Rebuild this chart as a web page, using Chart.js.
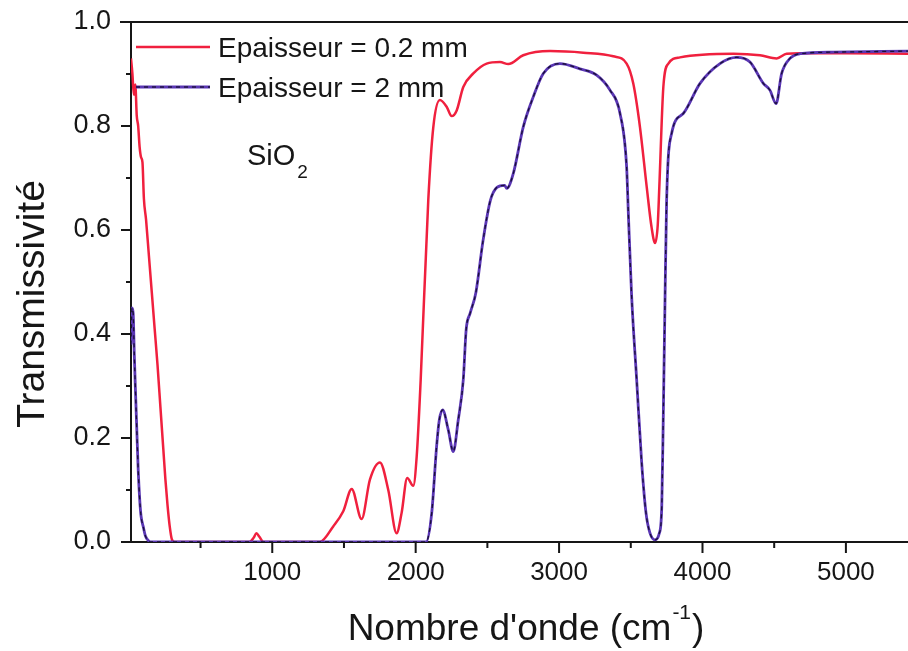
<!DOCTYPE html>
<html>
<head>
<meta charset="utf-8">
<script src="https://cdn.jsdelivr.net/npm/chart.js@4.4.0/dist/chart.umd.min.js"></script>
<style>
  html, body { margin: 0; padding: 0; background: #fff; }
  #wrap { width: 908px; height: 651px; }
</style>
</head>
<body>
<div id="wrap"><canvas id="spectre"></canvas></div>
<script>
// Epaisseur = 0.2 mm (nombre d'onde en cm-1, transmissivité)
const fineX = [15, 25, 35, 45, 55, 65, 75, 85, 95, 105, 120, 140, 160, 180, 200, 220, 240, 255, 270, 285, 300, 320,
  840, 870, 890, 910, 940,
  1330, 1425, 1495, 1554, 1623, 1681, 1751, 1809, 1867, 1902, 1941, 1983, 2007, 2035,
  2088, 2123, 2169, 2216, 2251, 2286, 2332, 2402, 2495, 2588, 2646, 2750, 2937, 3169, 3378, 3471, 3517,
  3564, 3611, 3645, 3669, 3688, 3699, 3727, 3762, 3843, 4215, 4401, 4517, 4587, 4681, 5000, 5433];
const fineY = [0.93, 0.90, 0.86, 0.88, 0.82, 0.80, 0.76, 0.74, 0.73, 0.66, 0.62, 0.55, 0.48, 0.41, 0.34, 0.26, 0.18, 0.12, 0.07, 0.03, 0.005, 0,
  0, 0.008, 0.017, 0.01, 0,
  0, 0.03, 0.059, 0.102, 0.044, 0.120, 0.153, 0.100, 0.017, 0.056, 0.123, 0.108, 0.164, 0.312,
  0.658, 0.798, 0.850, 0.837, 0.819, 0.830, 0.875, 0.901, 0.920, 0.923, 0.919, 0.936, 0.944, 0.941, 0.934, 0.920, 0.882,
  0.798, 0.683, 0.605, 0.575, 0.610, 0.683, 0.875, 0.920, 0.932, 0.939, 0.936, 0.930, 0.939, 0.940, 0.940, 0.939];

// Epaisseur = 2 mm
const epaisX = [15, 22, 30, 38, 45, 55, 65, 75, 85, 100, 115, 135, 150,
  2072, 2112, 2146, 2165, 2188, 2227, 2262, 2297, 2332, 2352, 2380, 2420, 2470, 2521, 2567, 2620, 2635, 2681,
  2750, 2820, 2890, 3006, 3145, 3262, 3355, 3425, 3471, 3483, 3506, 3541, 3576, 3606, 3634, 3669, 3699,
  3716, 3727, 3739, 3750, 3785, 3866, 3983, 4122, 4238, 4331, 4424, 4470, 4513, 4552, 4610, 4681, 4912, 5433];
const epaisY = [0.38, 0.45, 0.44, 0.36, 0.30, 0.22, 0.14, 0.085, 0.05, 0.03, 0.012, 0.003, 0,
  0, 0.056, 0.184, 0.235, 0.254, 0.216, 0.174, 0.235, 0.312, 0.408, 0.440, 0.480, 0.580, 0.657, 0.682, 0.686, 0.680, 0.709,
  0.798, 0.856, 0.901, 0.920, 0.910, 0.898, 0.869, 0.824, 0.721, 0.632, 0.472, 0.312, 0.152, 0.056, 0.017, 0.004, 0.017,
  0.068, 0.248, 0.472, 0.658, 0.786, 0.824, 0.882, 0.920, 0.932, 0.923, 0.882, 0.869, 0.843, 0.901, 0.930, 0.939, 0.942, 0.944];

const xMajor = [1000, 2000, 3000, 4000, 5000];
const xMinor = [500, 1500, 2500, 3500, 4500];
const yMajor = [0, 0.2, 0.4, 0.6, 0.8, 1.0];
const yMinor = [0.1, 0.3, 0.5, 0.7, 0.9];

const FONT = "'Liberation Sans', Arial, Helvetica, sans-serif";
const INK = '#161616';

const toPoints = (xs, ys) => xs.map((x, i) => ({ x: x, y: ys[i] }));

// ticks, top frame line, legend, axis titles and the SiO2 label
const decorations = {
  id: 'decorations',
  afterDraw(chart) {
    const ctx = chart.ctx;
    const area = chart.chartArea;
    const xs = chart.scales.x, ys = chart.scales.y;
    ctx.save();
    ctx.strokeStyle = INK;
    ctx.lineWidth = 2;
    ctx.beginPath();
    ctx.moveTo(area.left - 11, area.top);
    ctx.lineTo(area.right, area.top);
    yMajor.forEach(v => { const p = ys.getPixelForValue(v); ctx.moveTo(area.left - 10, p); ctx.lineTo(area.left, p); });
    yMinor.forEach(v => { const p = ys.getPixelForValue(v); ctx.moveTo(area.left - 5, p); ctx.lineTo(area.left, p); });
    xMajor.forEach(v => { const p = xs.getPixelForValue(v); ctx.moveTo(p, area.bottom); ctx.lineTo(p, area.bottom + 11); });
    xMinor.forEach(v => { const p = xs.getPixelForValue(v); ctx.moveTo(p, area.bottom); ctx.lineTo(p, area.bottom + 6); });
    ctx.stroke();

    // legend inside the plot
    const ds = chart.data.datasets;
    ctx.lineWidth = ds[0].borderWidth;
    ctx.strokeStyle = ds[0].borderColor;
    ctx.beginPath(); ctx.moveTo(136, 47); ctx.lineTo(210, 47); ctx.stroke();
    ctx.lineWidth = ds[1].borderWidth;
    ctx.strokeStyle = ds[1].borderColor;
    ctx.beginPath(); ctx.moveTo(136, 87); ctx.lineTo(210, 87); ctx.stroke();
    ctx.lineWidth = ds[2].borderWidth;
    ctx.strokeStyle = ds[2].borderColor;
    ctx.setLineDash(ds[2].borderDash);
    ctx.beginPath(); ctx.moveTo(136, 87); ctx.lineTo(210, 87); ctx.stroke();
    ctx.setLineDash([]);

    ctx.fillStyle = INK;
    ctx.textAlign = 'left';
    ctx.textBaseline = 'alphabetic';
    ctx.font = '28px ' + FONT;
    ctx.fillText(ds[0].label, 218, 57);
    ctx.fillText(ds[1].label, 218, 97);

    // SiO2
    ctx.font = '29px ' + FONT;
    ctx.fillText('SiO', 247, 165);
    const w = ctx.measureText('SiO').width;
    ctx.font = '19px ' + FONT;
    ctx.fillText('2', 247 + w + 2, 178);

    // x title with superscript
    ctx.font = '37px ' + FONT;
    const base = "Nombre d'onde (cm";
    const bw = ctx.measureText(base).width;
    ctx.font = '21px ' + FONT;
    const sw = ctx.measureText('-1').width;
    ctx.font = '37px ' + FONT;
    const cw = ctx.measureText(')').width;
    let x0 = 526 - (bw + sw + 2 + cw) / 2;
    ctx.fillText(base, x0, 640);
    ctx.font = '21px ' + FONT;
    ctx.fillText('-1', x0 + bw + 1, 619);
    ctx.font = '37px ' + FONT;
    ctx.fillText(')', x0 + bw + sw + 2, 640);

    // y title
    ctx.translate(44, 304);
    ctx.rotate(-Math.PI / 2);
    ctx.textAlign = 'center';
    ctx.font = '39px ' + FONT;
    ctx.fillText('Transmissivité', 0, 0);
    ctx.restore();
  }
};

new Chart(document.getElementById('spectre'), {
  type: 'line',
  data: {
    datasets: [
      {
        label: 'Epaisseur = 0.2 mm',
        data: toPoints(fineX, fineY),
        borderColor: '#f0203e',
        borderWidth: 2.5,
        pointRadius: 0,
        cubicInterpolationMode: 'monotone',
        order: 3
      },
      {
        label: 'Epaisseur = 2 mm',
        data: toPoints(epaisX, epaisY),
        borderColor: '#5a36b4',
        borderWidth: 2.8,
        pointRadius: 0,
        cubicInterpolationMode: 'monotone',
        order: 2
      },
      {
        label: 'Epaisseur = 2 mm (tirets)',
        data: toPoints(epaisX, epaisY),
        borderColor: '#1a1038',
        borderWidth: 1.3,
        borderDash: [4, 4],
        pointRadius: 0,
        cubicInterpolationMode: 'monotone',
        order: 1
      }
    ]
  },
  options: {
    responsive: true,
    maintainAspectRatio: false,
    devicePixelRatio: 1,
    animation: false,
    layout: { padding: { top: 22, right: 0, left: 0, bottom: 0 } },
    plugins: { legend: { display: false }, tooltip: { enabled: false } },
    scales: {
      x: {
        type: 'linear',
        min: 15,
        max: 5433,
        grid: { display: false, drawTicks: false },
        border: { display: true, color: INK, width: 2 },
        ticks: { color: INK, font: { family: FONT, size: 26 }, padding: 15, maxRotation: 0, callback: v => String(v) },
        afterBuildTicks: scale => { scale.ticks = xMajor.map(v => ({ value: v })); },
        afterFit: scale => { scale.height = 109; scale.paddingLeft = 0; scale.paddingRight = 0; }
      },
      y: {
        min: 0,
        max: 1,
        grid: { display: false, drawTicks: false },
        border: { display: true, color: INK, width: 2 },
        ticks: { color: INK, font: { family: FONT, size: 27 }, padding: 20, callback: v => v.toFixed(1) },
        afterBuildTicks: scale => { scale.ticks = yMajor.map(v => ({ value: v })); },
        afterFit: scale => { scale.width = 131; scale.paddingTop = 0; scale.paddingBottom = 0; }
      }
    }
  },
  plugins: [decorations]
});
</script>
</body>
</html>
